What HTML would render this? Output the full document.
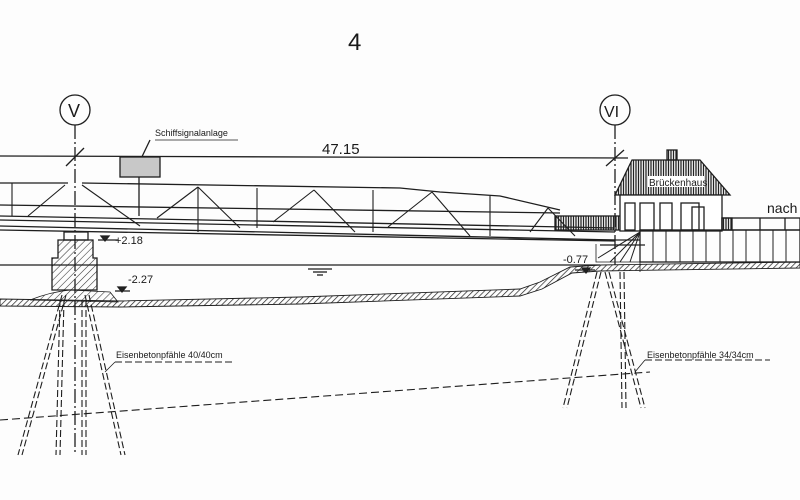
<!DOCTYPE html>
<html><head><meta charset="utf-8"><style>
html,body{margin:0;padding:0;background:#fff}
svg{display:block}
text{font-family:"Liberation Sans",sans-serif;fill:#1a1a1a}
</style></head><body>
<svg width="800" height="500" viewBox="0 0 800 500" xmlns="http://www.w3.org/2000/svg">
<defs>
<pattern id="h" width="4" height="4" patternUnits="userSpaceOnUse" patternTransform="rotate(45)">
<line x1="0" y1="0" x2="0" y2="4" stroke="#222" stroke-width="1.4"/></pattern>
<pattern id="p" width="5" height="5" patternUnits="userSpaceOnUse" patternTransform="rotate(45)">
<line x1="0" y1="0" x2="0" y2="5" stroke="#333" stroke-width="1.1"/></pattern>
<pattern id="v" width="2.5" height="5" patternUnits="userSpaceOnUse">
<line x1="1" y1="0" x2="1" y2="5" stroke="#222" stroke-width="1.3"/></pattern>
</defs>
<rect width="800" height="500" fill="#fdfdfd"/>
<g stroke="#1e1e1e" fill="none" stroke-width="1.3">
<text x="348" y="50" font-size="24" stroke="none">4</text>
<circle cx="75" cy="110" r="15"/><text x="68" y="117" font-size="18" stroke="none">V</text>
<circle cx="615" cy="110" r="15"/><text x="604" y="117" font-size="16" stroke="none">VI</text>
<line x1="75" y1="125" x2="75" y2="455" stroke-dasharray="14,3,2,3"/>
<line x1="615" y1="125" x2="615" y2="265" stroke-dasharray="14,3,2,3"/>
<line x1="0" y1="156" x2="628" y2="158"/>
<line x1="66" y1="166" x2="84" y2="148"/><line x1="606" y1="166" x2="624" y2="150"/>
<text x="322" y="154" font-size="15" stroke="none">47.15</text>
<text x="155" y="136" font-size="9" stroke="none">Schiffsignalanlage</text>
<line x1="150" y1="140" x2="138" y2="165"/><line x1="155" y1="140" x2="238" y2="140" stroke-width="0.8"/>
<rect x="120" y="157" width="40" height="20" fill="#c8c8c8"/>
<line x1="139" y1="177" x2="139" y2="216"/>
<polyline points="0,183 68,183"/><polyline points="82,183 400,188 440,192 500,196 560,210"/>
<line x1="0" y1="205" x2="560" y2="213"/>
<line x1="0" y1="216" x2="615" y2="228"/><line x1="0" y1="220" x2="615" y2="232"/>
<line x1="0" y1="226" x2="615" y2="240"/>
<line x1="0" y1="230" x2="615" y2="241"/>
<g stroke-width="1.1">
<line x1="12" y1="183" x2="12" y2="216"/><line x1="28" y1="216" x2="65" y2="185"/>
<line x1="82" y1="185" x2="140" y2="226"/><line x1="157" y1="218" x2="198" y2="187"/>
<line x1="198" y1="187" x2="240" y2="228"/><line x1="198" y1="187" x2="198" y2="232"/>
<line x1="273" y1="222" x2="314" y2="190"/><line x1="314" y1="190" x2="355" y2="232"/>
<line x1="257" y1="188" x2="257" y2="228"/><line x1="373" y1="190" x2="373" y2="232"/>
<line x1="388" y1="227" x2="432" y2="192"/><line x1="432" y1="192" x2="470" y2="236"/>
<line x1="490" y1="196" x2="490" y2="236"/><line x1="530" y1="232" x2="548" y2="208"/>
<line x1="548" y1="208" x2="575" y2="236"/>
</g>
<rect x="555" y="216" width="90" height="14" fill="url(#v)"/>
<line x1="600" y1="240" x2="640" y2="240"/><line x1="600" y1="245" x2="645" y2="245"/>
<rect x="64" y="232" width="24" height="8"/>
<path d="M58 240 H93 V258 H97 V290 H52 V258 H58 Z" fill="url(#p)"/>
<path d="M30 300 Q50 292 70 290 L110 292 L118 302 Z" fill="url(#p)" stroke-width="0.8"/>
<line x1="98" y1="240" x2="118" y2="240"/><path d="M101 236 L109 236 L105 241 Z" fill="#222"/>
<text x="115" y="244" font-size="11" stroke="none">+2.18</text>
<line x1="115" y1="291" x2="130" y2="291"/><path d="M118 287 L126 287 L122 292 Z" fill="#222"/>
<text x="128" y="283" font-size="11" stroke="none">-2.27</text>
<line x1="0" y1="265" x2="600" y2="265"/>
<line x1="308" y1="269" x2="332" y2="269"/><line x1="313" y1="272" x2="327" y2="272"/><line x1="317" y1="275" x2="323" y2="275"/>
<path d="M0 299 L120 301 L300 297 L520 289 L540 282 L570 267 L600 265 L800 262 L800 268 L600 271 L572 273 L542 289 L520 296 L300 304 L120 307 L0 306 Z" fill="url(#h)" stroke-width="0.9"/>
<path d="M615 195 L632 160 L700 160 L730 195 Z" fill="url(#v)"/>
<rect x="667" y="150" width="10" height="10" fill="url(#v)"/>
<rect x="620" y="195" width="102" height="36" fill="#fff"/>
<rect x="648" y="176" width="56" height="11" fill="#fff" stroke="none"/>
<text x="649" y="186" font-size="10" stroke="none">Brückenhaus</text>
<rect x="625" y="203" width="10" height="27"/><rect x="640" y="203" width="14" height="27"/>
<rect x="660" y="203" width="12" height="27"/><rect x="681" y="203" width="18" height="27"/><rect x="692" y="207" width="12" height="23"/>
<rect x="722" y="218" width="78" height="12"/><rect x="722" y="218" width="10" height="12" fill="url(#v)"/>
<line x1="760" y1="218" x2="760" y2="230"/><line x1="785" y1="218" x2="785" y2="230"/>
<text x="767" y="213" font-size="14" stroke="none">nach</text>
<rect x="640" y="230" width="160" height="32"/>
<g stroke-width="1">
<line x1="653" y1="230" x2="653" y2="262"/><line x1="666" y1="230" x2="666" y2="262"/><line x1="680" y1="230" x2="680" y2="262"/><line x1="693" y1="230" x2="693" y2="262"/><line x1="706" y1="230" x2="706" y2="262"/><line x1="720" y1="230" x2="720" y2="262"/><line x1="733" y1="230" x2="733" y2="262"/><line x1="746" y1="230" x2="746" y2="262"/><line x1="760" y1="230" x2="760" y2="262"/><line x1="773" y1="230" x2="773" y2="262"/><line x1="786" y1="230" x2="786" y2="262"/>
<line x1="640" y1="232" x2="598" y2="258"/><line x1="640" y1="232" x2="610" y2="262"/><line x1="640" y1="232" x2="620" y2="262"/><line x1="640" y1="232" x2="630" y2="262"/>
</g>
<path d="M596 244 V262 H640 V272" stroke-width="0.8"/>
<text x="563" y="263" font-size="11" stroke="none">-0.77</text>
<path d="M582 268 L590 268 L586 273 Z" fill="#222"/><line x1="575" y1="270" x2="595" y2="270"/>
<g stroke-dasharray="7,3" stroke-width="1.1">
<line x1="62" y1="295" x2="18" y2="455"/><line x1="66" y1="295" x2="22" y2="455"/>
<line x1="60" y1="300" x2="56" y2="455"/><line x1="64" y1="300" x2="60" y2="455"/>
<line x1="82" y1="300" x2="82" y2="455"/><line x1="86" y1="300" x2="86" y2="455"/>
<line x1="85" y1="295" x2="121" y2="455"/><line x1="89" y1="295" x2="125" y2="455"/>
<line x1="597" y1="272" x2="563" y2="408"/><line x1="601" y1="272" x2="567" y2="408"/>
<line x1="620" y1="272" x2="622" y2="408"/><line x1="624" y1="272" x2="626" y2="408"/>
<line x1="605" y1="272" x2="641" y2="408"/><line x1="609" y1="272" x2="645" y2="408"/>
<line x1="0" y1="420" x2="650" y2="372" stroke-dasharray="8,4"/>
<line x1="115" y1="362" x2="235" y2="362"/><line x1="645" y1="360" x2="770" y2="360"/>
</g>
<line x1="115" y1="362" x2="105" y2="372" stroke-width="0.8"/>
<line x1="645" y1="360" x2="635" y2="372" stroke-width="0.8"/>
<text x="116" y="358" font-size="9" stroke="none">Eisenbetonpfähle 40/40cm</text>
<text x="647" y="358" font-size="9" stroke="none">Eisenbetonpfähle 34/34cm</text>
</g>
</svg>
</body></html>
